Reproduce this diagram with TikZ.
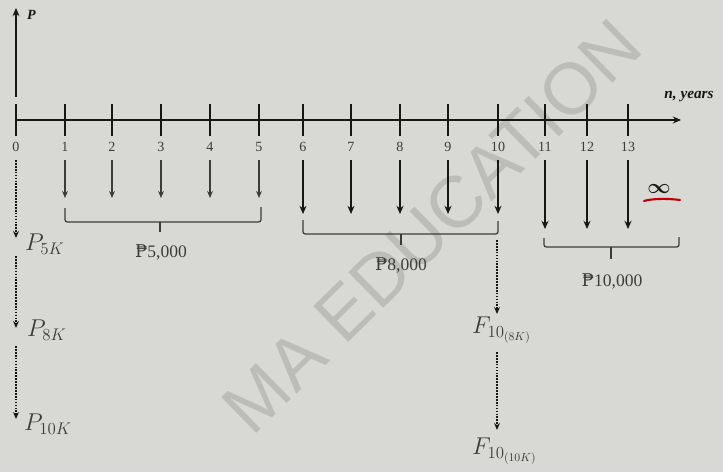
\documentclass[tikz,border=0pt]{standalone}
\usepackage{fontspec}
\setmainfont{Liberation Serif}
\newfontfamily\pesofont{DejaVu Serif}
\newfontfamily\wmfont{Liberation Sans}
\usetikzlibrary{arrows.meta}
\definecolor{bg}{RGB}{216,216,212}
\definecolor{ink}{RGB}{22,22,22}
\definecolor{softink}{RGB}{60,60,60}
\definecolor{wm}{RGB}{188,188,185}
\newcommand{\peso}{{\pesofont ₱}}
\begin{document}
\begin{tikzpicture}[x=0.03cm,y=-0.03cm,
  axisline/.style={ink,line width=2.4pt,-{Stealth[length=7pt,width=6pt]}},
  tickline/.style={ink,line width=1.3pt},
  ticklab/.style={softink,font=\fontsize{12}{13}\selectfont},
  cashA/.style={softink,line width=1.1pt,-{Stealth[length=6pt,width=5pt]}},
  cashB/.style={ink,line width=1.8pt,-{Stealth[length=7pt,width=6pt]}},
  bracket/.style={softink,line width=1.1pt,rounded corners=2pt},
  amount/.style={softink,font=\fontsize{15}{16}\selectfont},
  equiv/.style={ink,line width=1.5pt,densely dotted,-{Stealth[length=6pt,width=5pt]}},
  eqlab/.style={softink,font=\fontsize{20}{22}\selectfont},
]
\fill[bg] (0,0) rectangle (723,472);
\useasboundingbox (0,0) rectangle (723,472);

% watermark
\node[rotate=44.5,text=wm,font=\wmfont\fontsize{62}{70}\selectfont] (wmark) at (432,226) {MA EDUCATION};

% P axis
\coordinate (pbot) at (16,97);
\coordinate (ptop) at (16,8);
\draw[axisline] (pbot) -- (ptop);
\node[anchor=west,font=\bfseries\itshape\fontsize{12}{13}\selectfont,ink] (plab) at (23,15) {P};

% time axis
\coordinate (origin) at (16,120);
\coordinate (tend) at (681,120);
\draw[axisline] (origin) -- (tend);
\node[font=\bfseries\itshape\fontsize{13}{14}\selectfont,ink] (nlab) at (689,97) {n, years};

% ticks and labels
\foreach \i/\x in {0/16,1/65,2/112,3/161,4/210,5/259,6/303,7/351,8/400,9/448,10/498,11/545,12/587,13/628}{
  \coordinate (tt\i) at (\x,104);
  \coordinate (tb\i) at (\x,136);
  \draw[tickline] (tt\i) -- (tb\i);
  \node[ticklab] (l\i) at (\x,147) {\i};
}

% cash flows
\foreach \i/\x in {1/65,2/112,3/161,4/210,5/259}{
  \coordinate (cs\i) at (\x,160);
  \coordinate (ce\i) at (\x,198);
  \draw[cashA] (cs\i) -- (ce\i);
}
\foreach \i/\x in {6/303,7/351,8/400,9/448,10/498}{
  \coordinate (cs\i) at (\x,160);
  \coordinate (ce\i) at (\x,214);
  \draw[cashB] (cs\i) -- (ce\i);
}
\foreach \i/\x in {11/545,12/587,13/628}{
  \coordinate (cs\i) at (\x,160);
  \coordinate (ce\i) at (\x,229);
  \draw[cashB] (cs\i) -- (ce\i);
}

% brackets
\draw[bracket] (65,208) -- (65,222) -- (261,222) -- (261,207);
\draw[softink,line width=1.1pt] (160,222) -- (160,232);
\node[amount] (a5) at (161,252) {\peso5,000};

\draw[bracket] (303,220) -- (303,234) -- (498,234) -- (498,221);
\draw[softink,line width=1.1pt] (401,234) -- (401,245);
\node[amount] (a8) at (401,265) {\peso8,000};

\draw[bracket] (544,238) -- (544,247) -- (679,247) -- (679,237);
\draw[softink,line width=1.1pt] (611,247) -- (611,259);
\node[amount] (a10) at (612,281) {\peso10,000};

% infinity mark
\node[font=\LARGE\boldmath,ink] (inf) at (659,189) {$\infty$};
\draw[red!75!black,line width=1.8pt,line cap=round] (644,201) .. controls (650,199) and (665,198) .. (680,200);

% present equivalents
\coordinate (d0) at (16,160);
\coordinate (p5) at (16,238);
\coordinate (p5s) at (16,256);
\coordinate (p8) at (16,328);
\coordinate (p8s) at (16,346);
\coordinate (p10) at (16,419);
\draw[equiv] (d0) -- (p5);
\draw[equiv] (p5s) -- (p8);
\draw[equiv] (p8s) -- (p10);
\node[eqlab,anchor=west] (lp5) at (21,244) {$P_{5K}$};
\node[eqlab,anchor=west] (lp8) at (23,330) {$P_{8K}$};
\node[eqlab,anchor=west] (lp10) at (20,424) {$P_{10K}$};

% future equivalents
\coordinate (f0) at (497,240);
\coordinate (f8) at (497,314);
\coordinate (f8s) at (497,352);
\coordinate (f10) at (497,430);
\draw[equiv] (f0) -- (f8);
\draw[equiv] (f8s) -- (f10);
\node[eqlab,anchor=west] (lf8) at (468,330) {$F_{10_{(8K)}}$};
\node[eqlab,anchor=west] (lf10) at (468,451) {$F_{10_{(10K)}}$};
\end{tikzpicture}
\end{document}
